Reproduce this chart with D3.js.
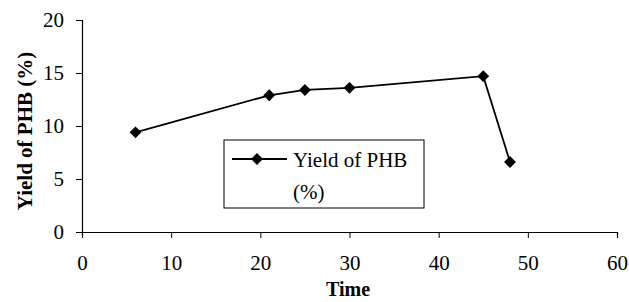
<!DOCTYPE html>
<html>
<head>
<meta charset="utf-8">
<script src="https://cdn.jsdelivr.net/npm/d3@7"></script>
<style>
  body { margin: 0; background: #fff; }
  svg text { font-family: "Liberation Serif", "Times New Roman", serif; fill: #000; }
</style>
</head>
<body>
<div id="chart"></div>
<script>
const times = [6, 21, 25, 30, 45, 48];
const yieldPHB = [9.4, 12.9, 13.4, 13.6, 14.7, 6.6];
const xTicks = [0, 10, 20, 30, 40, 50, 60];
const yTicks = [0, 5, 10, 15, 20];
const seriesName = ['Yield of PHB', '(%)'];

const data = times.map((t, i) => ({ t: t, v: yieldPHB[i] }));

const width = 629, height = 302;
const margin = { top: 20, right: 12, bottom: 70, left: 82 };

const svg = d3.select('#chart')
    .append('svg')
    .attr('width', width)
    .attr('height', height);

const x = d3.scaleLinear()
    .domain([0, 60])
    .range([margin.left, 617]);

const y = d3.scaleLinear()
    .domain([0, 20])
    .range([232, margin.top]);

// axes
const xAxis = svg.append('g')
    .attr('transform', `translate(0,${y(0)})`)
    .call(d3.axisBottom(x).tickValues(xTicks).tickSize(6).tickPadding(17).tickFormat(d3.format('d')));

const yAxis = svg.append('g')
    .attr('transform', `translate(${x(0)},0)`)
    .call(d3.axisLeft(y).tickValues(yTicks).tickSize(6).tickPadding(12).tickFormat(d3.format('d')));

[xAxis, yAxis].forEach(g => {
    g.select('.domain').attr('stroke', '#000').attr('stroke-width', 1.2);
    g.selectAll('.tick line').attr('stroke', '#000');
    g.selectAll('.tick text')
        .style('font-family', '"Liberation Serif", serif')
        .style('font-size', '21px')
        .attr('fill', '#000');
});

// line
const line = d3.line()
    .x(d => x(d.t))
    .y(d => y(d.v));

svg.append('path')
    .datum(data)
    .attr('fill', 'none')
    .attr('stroke', '#000')
    .attr('stroke-width', 1.8)
    .attr('d', line);

const diamond = d3.symbol().type(d3.symbolSquare).size(70);

svg.selectAll('.pt')
    .data(data)
    .enter()
    .append('path')
    .attr('class', 'pt')
    .attr('d', diamond)
    .attr('transform', d => `translate(${x(d.t)},${y(d.v)}) rotate(45)`)
    .attr('fill', '#000');

// axis titles
svg.append('text')
    .attr('text-anchor', 'middle')
    .attr('x', 348)
    .attr('y', 296)
    .style('font-size', '20px')
    .style('font-weight', 'bold')
    .text('Time');

svg.append('text')
    .attr('text-anchor', 'middle')
    .attr('transform', 'translate(32,131) rotate(-90)')
    .style('font-size', '21px')
    .style('font-weight', 'bold')
    .text('Yield of PHB (%)');

// legend
const legend = svg.append('g');

legend.append('rect')
    .attr('x', 224)
    .attr('y', 140)
    .attr('width', 200)
    .attr('height', 68)
    .attr('fill', '#fff')
    .attr('stroke', '#000')
    .attr('stroke-width', 1);

legend.append('line')
    .attr('x1', 232).attr('x2', 287)
    .attr('y1', 159).attr('y2', 159)
    .attr('stroke', '#000')
    .attr('stroke-width', 1.8);

legend.append('path')
    .attr('d', diamond)
    .attr('transform', 'translate(257,159) rotate(45)')
    .attr('fill', '#000');

legend.selectAll('.lt')
    .data(seriesName)
    .enter()
    .append('text')
    .attr('class', 'lt')
    .attr('x', 293)
    .attr('y', (d, i) => 167 + i * 32)
    .style('font-size', '21px')
    .text(d => d);
</script>
</body>
</html>
